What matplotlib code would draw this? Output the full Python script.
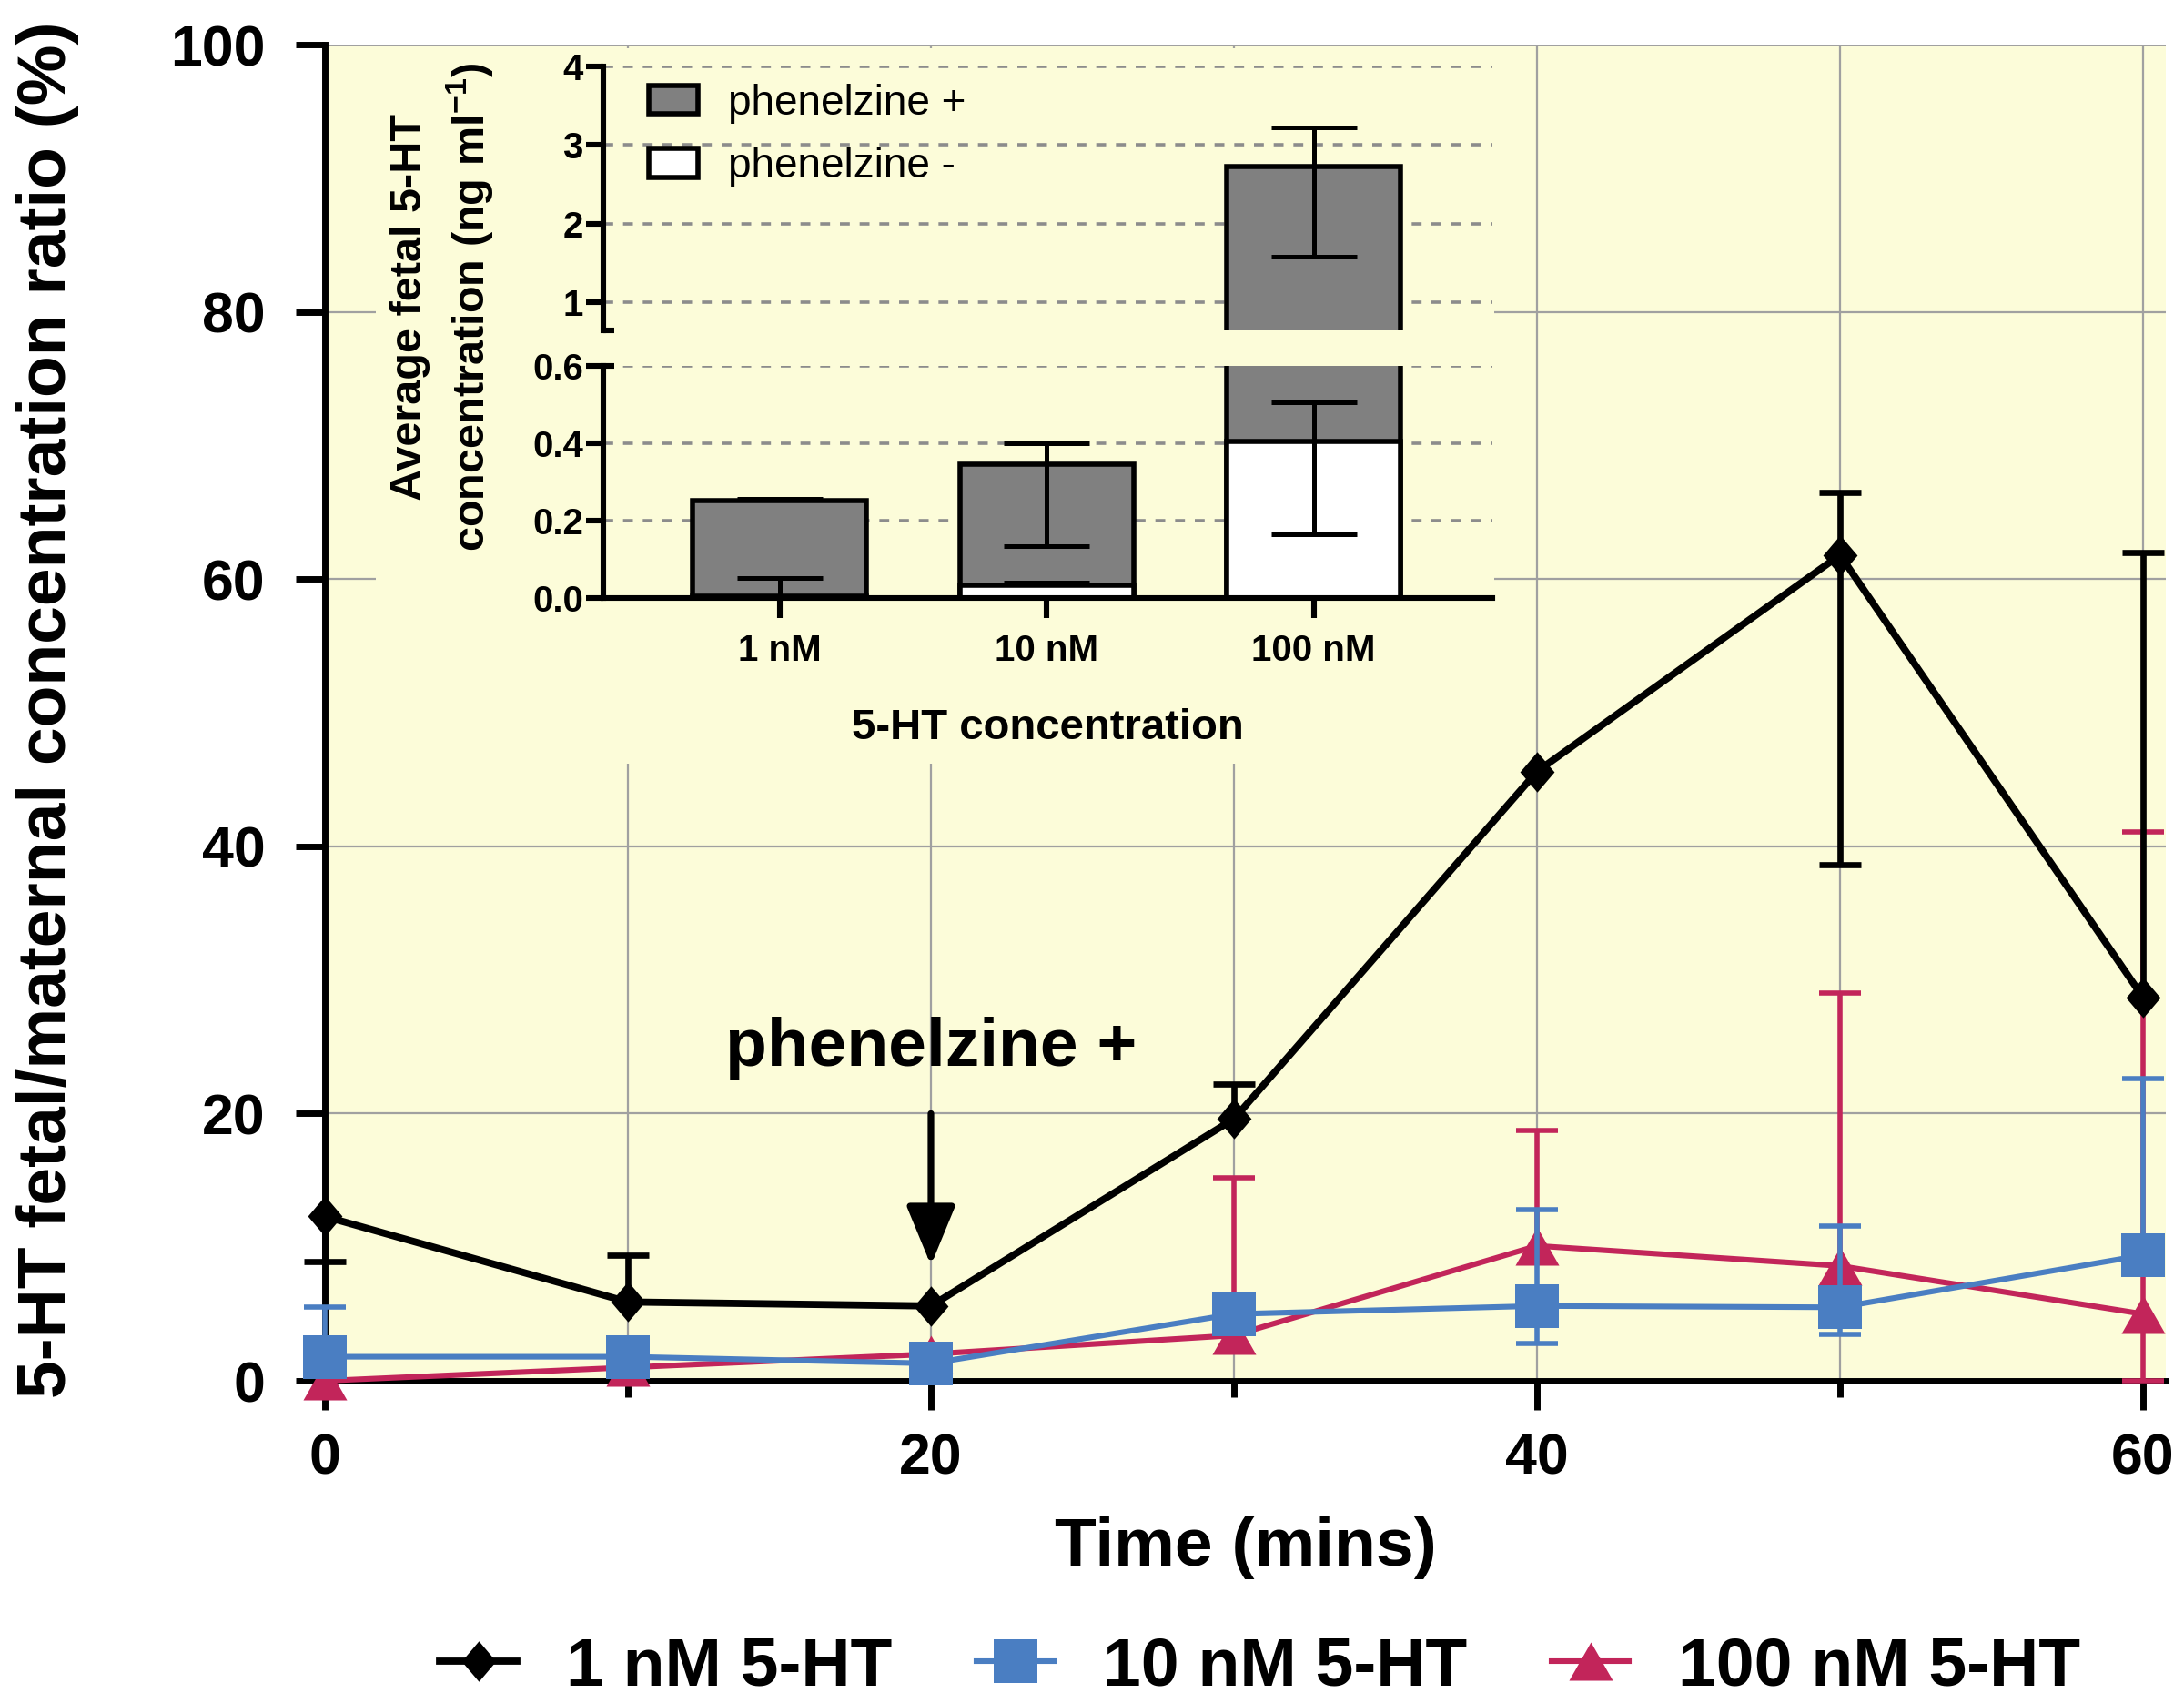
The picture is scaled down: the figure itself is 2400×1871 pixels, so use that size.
import numpy as np
import matplotlib
matplotlib.use('Agg')
import matplotlib.pyplot as plt
from matplotlib.patches import Rectangle, Patch
from matplotlib.ticker import FixedLocator, FormatStrFormatter

plt.rcParams['font.family'] = ['Liberation Sans', 'DejaVu Sans']
plt.rcParams['mathtext.fontset'] = 'custom'
plt.rcParams['mathtext.rm'] = 'Liberation Sans'
plt.rcParams['mathtext.bf'] = 'Liberation Sans:bold'

nan = np.nan

#*** Main chart data (fetal/maternal ratio, %) ***#
time_min = [0, 10, 20, 30, 40, 50, 60]

ratio_1nM = [12.3, 5.9, 5.6, 19.6, 45.6, 61.8, 28.7]
ratio_1nM_lo = [8.9, nan, nan, nan, nan, 38.6, nan]
ratio_1nM_hi = [nan, 9.4, nan, 22.2, nan, 66.5, 62.0]

ratio_10nM = [1.8, 1.8, 1.3, 5.0, 5.6, 5.5, 9.4]
ratio_10nM_lo = [nan, nan, nan, nan, 2.8, 3.5, nan]
ratio_10nM_hi = [5.5, nan, nan, nan, 12.8, 11.6, 22.6]

ratio_100nM = [0.0, 1.0, 2.0, 3.4, 10.1, 8.6, 5.0]
ratio_100nM_lo = [nan, nan, nan, nan, nan, nan, 0.0]
ratio_100nM_hi = [nan, nan, nan, 15.2, 18.7, 29.0, 41.1]

series_labels = ['1 nM 5-HT', '10 nM 5-HT', '100 nM 5-HT']

#*** Inset data (average fetal 5-HT, ng/ml) ***#
conc_labels = ['1 nM', '10 nM', '100 nM']
phen_plus = [0.252, 0.345, 2.73]
phen_plus_lo = [nan, 0.135, 1.58]
phen_plus_hi = [0.256, 0.40, 3.22]
phen_minus = [0.004, 0.032, 0.405]
phen_minus_lo = [nan, nan, 0.165]
phen_minus_hi = [0.051, 0.04, 0.507]

#*** Styles ***#
bg = '#FCFCD9'
c_black = 'black'
c_blue = '#4A7EC2'
c_red = '#C2255A'
diamond = [(0, 1), (0.85, 0), (0, -1), (-0.85, 0), (0, 1)]
triangle = [(0, 0.875), (1, -0.875), (-1, -0.875), (0, 0.875)]


def err_bars(ax, x, mean, lo, hi, color, lw, cap, z, clip=True):
    """ One-sided error bars: only the ends that exist get a line + cap """
    x = np.asarray(x, float)
    mean = np.asarray(mean, float)
    for ends in (lo, hi):
        ends = np.asarray(ends, float)
        m = ~np.isnan(ends)
        if not m.any():
            continue
        ax.vlines(x[m], np.minimum(ends[m], mean[m]), np.maximum(ends[m], mean[m]),
                  color=color, lw=lw, zorder=z, clip_on=clip)
        ax.plot(x[m], ends[m], ls='none', marker='_', ms=cap, mew=lw,
                color=color, zorder=z, clip_on=clip)


fig = plt.figure(figsize=(12, 9.355), dpi=200)

#*** Main axes ***#
ax = fig.add_axes([0.14875, 0.1892, 0.8429, 0.7846])
ax.set_facecolor(bg)
ax.set_xlim(0, 60.75)
ax.set_ylim(0, 100)
ax.set_axisbelow(True)
for s in ['top', 'right']:
    ax.spines[s].set_visible(False)
for s in ['left', 'bottom']:
    ax.spines[s].set_linewidth(2.5)

ax.xaxis.set_major_locator(FixedLocator([0, 20, 40, 60]))
ax.xaxis.set_minor_locator(FixedLocator([10, 30, 50]))
ax.yaxis.set_major_locator(FixedLocator([0, 20, 40, 60, 80, 100]))
ax.tick_params(which='major', length=11.5, width=2.5, labelsize=22.5)
ax.tick_params(axis='x', which='major', pad=9)
ax.tick_params(axis='y', which='major', pad=12)
ax.tick_params(which='minor', length=6.5, width=2.5)
for lab in ax.get_xticklabels() + ax.get_yticklabels():
    lab.set_fontweight('bold')
ax.grid(True, which='both', axis='x', color='#A0A0A0', lw=0.8)
ax.grid(True, which='major', axis='y', color='#A0A0A0', lw=0.8)

# Background patch that hides the grid behind the inset
ax.add_patch(Rectangle((0.172, 0.5516), 0.512, 0.4200, transform=fig.transFigure,
                       facecolor=bg, edgecolor='none', zorder=1))

# Series (red under blue under black)
err_bars(ax, time_min, ratio_100nM, ratio_100nM_lo, ratio_100nM_hi, c_red, 2.0, 16.5, 3, clip=False)
l100, = ax.plot(time_min, ratio_100nM, color=c_red, lw=2.2, marker=triangle, ms=17.3,
                mew=0, zorder=3.1, clip_on=False, label=series_labels[2])
err_bars(ax, time_min, ratio_10nM, ratio_10nM_lo, ratio_10nM_hi, c_blue, 2.0, 16.5, 4, clip=False)
l10, = ax.plot(time_min, ratio_10nM, color=c_blue, lw=2.2, marker='s', ms=17,
               mew=0, zorder=4.1, clip_on=False, label=series_labels[1])
err_bars(ax, time_min, ratio_1nM, ratio_1nM_lo, ratio_1nM_hi, c_black, 2.4, 16.5, 5, clip=False)
l1, = ax.plot(time_min, ratio_1nM, color=c_black, lw=2.8, marker=diamond, ms=16,
              mew=0, zorder=5.1, clip_on=False, label=series_labels[0])

# Treatment arrow
ax.annotate('', xy=(20, 8.65), xytext=(20, 20),
            arrowprops=dict(arrowstyle='-|>,head_length=0.8,head_width=0.33',
                            mutation_scale=25, lw=2.6, color='black',
                            shrinkA=0, shrinkB=0), zorder=6)
ax.text(20, 23.6, 'phenelzine +', ha='center', va='baseline',
        fontsize=27, fontweight='bold', zorder=6)

ax.set_xlabel('Time (mins)', fontsize=27, fontweight='bold', labelpad=12)
fig.text(0.022, 0.583, '5-HT fetal/maternal concentration ratio (%)', rotation=90,
         ha='center', va='center', fontsize=27, fontweight='bold')

fig.legend(handles=[l1, l10, l100], loc='center', bbox_to_anchor=(0.577, 0.021),
           ncol=3, frameon=False, prop={'size': 27, 'weight': 'bold'},
           handlelength=1.13, handletextpad=0.72, columnspacing=1.24)

#*** Inset: broken y-axis bar chart ***#
ax_lo = fig.add_axes([0.2763, 0.6488, 0.4071, 0.1363])
ax_hi = fig.add_axes([0.2763, 0.8060, 0.4071, 0.1550])
xpos = np.arange(len(conc_labels))

for a, ylim, yticks, fmt in [(ax_lo, (0, 0.6), [0, 0.2, 0.4, 0.6], '%.1f'),
                             (ax_hi, (0.64, 4.0), [1, 2, 3, 4], '%d')]:
    a.set_facecolor('none')
    a.set_xlim(-0.66, 2.67)
    a.set_ylim(*ylim)
    a.set_axisbelow(True)
    a.yaxis.set_major_locator(FixedLocator(yticks))
    a.yaxis.set_major_formatter(FormatStrFormatter(fmt))
    a.grid(True, axis='y', color='#8C8C8C', lw=1.3, ls=(0, (3, 3)))
    a.spines['top'].set_visible(False)
    a.spines['right'].set_visible(False)
    a.spines['left'].set_linewidth(2.2)
    a.spines['bottom'].set_linewidth(2.2)
    a.tick_params(axis='y', length=7, width=2.2, pad=1, labelsize=14.5)
    for lab in a.get_yticklabels():
        lab.set_fontweight('bold')
    a.bar(xpos, phen_plus, width=0.65, color='#808080', edgecolor='black', lw=2, zorder=2)
    a.bar(xpos, phen_minus, width=0.65, color='white', edgecolor='black', lw=2, zorder=2.1)
    err_bars(a, xpos, phen_plus, phen_plus_lo, phen_plus_hi, 'black', 1.8, 34, 3)
    err_bars(a, xpos, phen_minus, phen_minus_lo, phen_minus_hi, 'black', 1.8, 34, 3)
    # break marks
    edge = 1 if a is ax_lo else 0
    a.plot([0, 0.0125], [edge, edge], transform=a.transAxes, color='black',
           lw=2.2, clip_on=False, solid_capstyle='butt')

ax_hi.spines['bottom'].set_visible(False)
ax_hi.set_xticks([])

ax_lo.set_xticks(xpos)
ax_lo.set_xticklabels(conc_labels, fontsize=14.5, fontweight='bold')
ax_lo.tick_params(axis='x', length=8, width=2.2, pad=6)
ax_lo.set_xlabel('5-HT concentration', fontsize=17, fontweight='bold', labelpad=16)

fig.text(0.2025, 1 - 337 / 1871,
         'Average fetal 5-HT\nconcentration (ng ml$^{\\mathbf{-1}}$)', rotation=90,
         ha='center', va='center', multialignment='center', linespacing=1.35,
         fontsize=17.5, fontweight='bold')

ax_hi.legend(handles=[Patch(facecolor='#808080', edgecolor='black', lw=2, label='phenelzine +'),
                      Patch(facecolor='white', edgecolor='black', lw=2, label='phenelzine -')],
             loc='upper left', bbox_to_anchor=(0.051, 0.935), borderaxespad=0, borderpad=0,
             frameon=False, fontsize=16.5, handlelength=1.17, handleheight=0.68,
             handletextpad=0.72, labelspacing=0.55)

fig.savefig('out.png', dpi=200, facecolor='white')
